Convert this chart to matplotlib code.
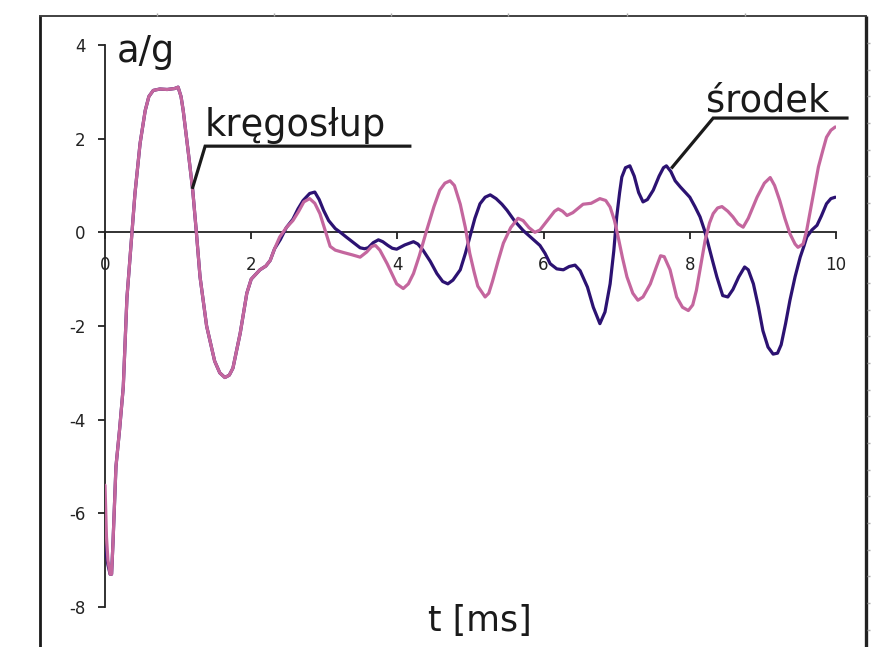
import matplotlib
matplotlib.use("Agg")
import matplotlib.pyplot as plt
from matplotlib.lines import Line2D

# ---- data ----
t_kregoslup = [0.0, 0.02, 0.04, 0.07, 0.09, 0.11, 0.13, 0.15, 0.2, 0.25, 0.3, 0.37, 0.41,
               0.48, 0.55, 0.6, 0.66, 0.75, 0.85, 0.95, 1.0, 1.04, 1.07, 1.14, 1.2, 1.25,
               1.3, 1.39, 1.5, 1.57, 1.64, 1.7, 1.75, 1.85, 1.94, 2.0, 2.06, 2.12, 2.2,
               2.26, 2.32, 2.39, 2.48, 2.57, 2.65, 2.72, 2.8, 2.87, 2.94, 3.0, 3.08,
               3.15, 3.26, 3.38, 3.49, 3.58, 3.65, 3.7, 3.76, 3.86, 3.93, 3.99, 4.08,
               4.15, 4.22, 4.3, 4.4, 4.5, 4.58, 4.65, 4.72, 4.78, 4.86, 4.93, 4.99,
               5.05, 5.1, 5.2, 5.25, 5.3, 5.38, 5.45, 5.55, 5.65, 5.72, 5.8, 5.88, 5.95,
               6.05, 6.15, 6.2, 6.26, 6.32, 6.4, 6.54, 6.65, 6.77, 6.85, 6.91, 6.97,
               7.02, 7.08, 7.14, 7.22, 7.29, 7.36, 7.46, 7.54, 7.6, 7.65, 7.73, 7.82,
               7.9, 7.98, 8.04, 8.09, 8.15, 8.21, 8.27, 8.32, 8.38, 8.44, 8.52, 8.59,
               8.66, 8.73, 8.8, 8.92, 9.02, 9.1, 9.16, 9.23, 9.3, 9.37, 9.44, 9.48,
               9.55, 9.6, 9.65, 9.7, 9.76, 9.82, 9.87, 9.93, 9.99]
a_kregoslup = [-5.4, -6.5, -7.0, -7.3, -7.3, -6.6, -5.8, -5.0, -4.2, -3.3, -1.4, 0.0, 0.83,
               1.9, 2.6, 2.9, 3.03, 3.06, 3.05, 3.07, 3.1, 2.9, 2.6, 1.7, 0.9, 0.0,
               -0.95, -2.0, -2.75, -3.0, -3.1, -3.05, -2.9, -2.15, -1.3, -1.0, -0.9, -0.8, -0.72,
               -0.6, -0.35, -0.1, 0.1, 0.25, 0.45, 0.65, 0.72, 0.62, 0.4, 0.1, -0.3,
               -0.38, -0.43, -0.48, -0.53, -0.42, -0.3, -0.28, -0.38, -0.67, -0.9, -1.1, -1.2,
               -1.1, -0.88, -0.5, 0.04, 0.55, 0.9, 1.05, 1.1, 1.0, 0.6, 0.1, -0.45,
               -0.85, -1.15, -1.38, -1.3, -1.05, -0.6, -0.23, 0.1, 0.3, 0.25, 0.1, 0.0, 0.05,
               0.25, 0.45, 0.5, 0.45, 0.36, 0.42, 0.6, 0.62, 0.72, 0.68, 0.54, 0.25,
               -0.1, -0.55, -0.95, -1.3, -1.45, -1.38, -1.1, -0.75, -0.5, -0.52, -0.8, -1.38,
               -1.6, -1.67, -1.55, -1.24, -0.7, -0.17, 0.2, 0.4, 0.52, 0.55, 0.45, 0.33,
               0.18, 0.11, 0.3, 0.75, 1.05, 1.17, 1.0, 0.68, 0.3, -0.03, -0.25, -0.32,
               -0.25, 0.05, 0.47, 0.9, 1.4, 1.75, 2.03, 2.18, 2.25]

t_srodek = [0.0, 0.02, 0.04, 0.07, 0.09, 0.11, 0.13, 0.15, 0.2, 0.25, 0.3, 0.37, 0.41,
            0.48, 0.55, 0.6, 0.66, 0.75, 0.85, 0.95, 1.0, 1.04, 1.07, 1.14, 1.2, 1.25,
            1.3, 1.39, 1.5, 1.57, 1.64, 1.7, 1.75, 1.85, 1.94, 2.0, 2.06, 2.12, 2.2,
            2.26, 2.32, 2.4, 2.48, 2.57, 2.64, 2.71, 2.8, 2.87, 2.93, 2.99, 3.06, 3.15,
            3.22, 3.3, 3.4, 3.49, 3.55, 3.6, 3.67, 3.74, 3.8, 3.87, 3.93, 3.99, 4.1,
            4.22, 4.28, 4.35, 4.45, 4.54, 4.62, 4.69, 4.76, 4.86, 4.93, 4.99, 5.06,
            5.13, 5.2, 5.27, 5.35, 5.43, 5.5, 5.6, 5.72, 5.82, 5.95, 6.02, 6.09, 6.18,
            6.27, 6.35, 6.43, 6.5, 6.6, 6.68, 6.77, 6.84, 6.91, 6.96, 7.0, 7.04, 7.07,
            7.12, 7.18, 7.24, 7.3, 7.36, 7.42, 7.5, 7.58, 7.64, 7.68, 7.74, 7.8, 7.87,
            8.0, 8.07, 8.14, 8.2, 8.25, 8.31, 8.37, 8.45, 8.52, 8.59, 8.67, 8.75, 8.8,
            8.87, 8.94, 9.0, 9.07, 9.14, 9.2, 9.25, 9.31, 9.37, 9.44, 9.51, 9.56, 9.6,
            9.67, 9.74, 9.8, 9.87, 9.93, 9.99]
a_srodek = [-6.7, -6.9, -7.1, -7.3, -7.3, -6.6, -5.8, -5.0, -4.2, -3.3, -1.4, 0.0, 0.83,
            1.9, 2.6, 2.9, 3.03, 3.06, 3.05, 3.07, 3.1, 2.9, 2.6, 1.7, 0.9, 0.0,
            -0.95, -2.0, -2.75, -3.0, -3.1, -3.05, -2.9, -2.15, -1.3, -1.0, -0.9, -0.8, -0.72,
            -0.6, -0.35, -0.15, 0.1, 0.28, 0.5, 0.68, 0.83, 0.86, 0.7, 0.47, 0.25, 0.08,
            0.0, -0.1, -0.22, -0.33, -0.35, -0.33, -0.22, -0.16, -0.2, -0.28, -0.34, -0.36, -0.27,
            -0.2, -0.25, -0.38, -0.62, -0.88, -1.05, -1.1, -1.02, -0.8, -0.45, -0.1, 0.3,
            0.61, 0.75, 0.8, 0.72, 0.6, 0.47, 0.25, 0.04, -0.1, -0.28, -0.45, -0.67, -0.78,
            -0.8, -0.73, -0.7, -0.82, -1.17, -1.6, -1.95, -1.7, -1.1, -0.4, 0.33, 0.85, 1.18,
            1.38, 1.42, 1.2, 0.85, 0.65, 0.7, 0.9, 1.2, 1.38, 1.42, 1.3, 1.1, 0.97,
            0.75, 0.55, 0.33, 0.05, -0.24, -0.6, -0.95, -1.35, -1.38, -1.22, -0.95, -0.74, -0.8,
            -1.1, -1.6, -2.1, -2.45, -2.6, -2.58, -2.4, -1.95, -1.45, -0.95, -0.53, -0.3, -0.1,
            0.05, 0.15, 0.35, 0.61, 0.72, 0.75]

x_ticks = [0, 2, 4, 6, 8, 10]
y_ticks = [-8, -6, -4, -2, 0, 2, 4]

label_kregoslup = "kręgosłup"
label_srodek = "środek"

PINK = "#C4669E"
NAVY = "#2C1272"

W, H = 888, 647
fig = plt.figure(figsize=(W / 100, H / 100), dpi=100)
plt.rcParams['font.family'] = ['DejaVu Sans']

ax = fig.add_axes([105 / W, 1 - 607 / H, (836 - 105) / W, (607 - 45) / H])
ax.set_xlim(0, 10)
ax.set_ylim(-8, 4)

ax.plot(t_srodek, a_srodek, color=NAVY, lw=2.3, zorder=3,
        solid_joinstyle='round', solid_capstyle='round')
ax.plot(t_kregoslup, a_kregoslup, color=PINK, lw=2.3, zorder=4,
        solid_joinstyle='round', solid_capstyle='round')

for s in ['top', 'right']:
    ax.spines[s].set_visible(False)
ax.spines['left'].set_position(('data', 0))
ax.spines['bottom'].set_position(('data', 0))
for s in ['left', 'bottom']:
    ax.spines[s].set_linewidth(1.3)
    ax.spines[s].set_color('#222222')

ax.set_xticks(x_ticks)
ax.set_yticks(y_ticks)
ax.set_xticklabels([str(v) for v in x_ticks])
ax.set_yticklabels([str(v) for v in y_ticks])
ax.tick_params(axis='x', direction='out', length=5, width=1.3, pad=12,
               labelsize=12, colors='#222222')
ax.tick_params(axis='y', direction='out', length=5, width=1.3, pad=9,
               labelsize=12, colors='#222222')

# annotations with leader lines
ax.plot([1.2, 1.37, 4.17], [0.96, 1.84, 1.84], color='#1a1a1a', lw=2.3,
        clip_on=False, zorder=5, solid_joinstyle='miter')
ax.plot([7.76, 8.32, 10.15], [1.39, 2.44, 2.44], color='#1a1a1a', lw=2.3,
        clip_on=False, zorder=5, solid_joinstyle='miter')

big = 26.5
fig.text(205 / W, 1 - 136 / H, label_kregoslup, fontsize=big, color='#1a1a1a',
         ha='left', va='baseline')
fig.text(706 / W, 1 - 112 / H, label_srodek, fontsize=big, color='#1a1a1a',
         ha='left', va='baseline')
fig.text(117 / W, 1 - 62 / H, "a/g", fontsize=big, color='#1a1a1a',
         ha='left', va='baseline')
fig.text(428 / W, 1 - 631 / H, "t [ms]", fontsize=25, color='#1a1a1a',
         ha='left', va='baseline')

# outer frame
def fl(x0, y0, x1, y1, lw, c):
    fig.add_artist(Line2D([x0 / W, x1 / W], [1 - y0 / H, 1 - y1 / H],
                          transform=fig.transFigure, lw=lw, color=c,
                          solid_capstyle='butt'))

fl(40, 16, 40, 647, 2.0, '#1a1a1a')
fl(39, 16, 867, 16, 1.3, '#333333')
fl(866, 16, 866, 647, 2.4, '#222222')
for k in range(24):
    y = 43 + k * 26.67
    if y < H:
        fl(867, y, 870, y, 1.0, '#aaaaaa')
for x in [157, 274, 391, 508, 627, 745]:
    fl(x, 13, x, 16, 1.0, '#aaaaaa')

fig.savefig("out.png", dpi=100)
